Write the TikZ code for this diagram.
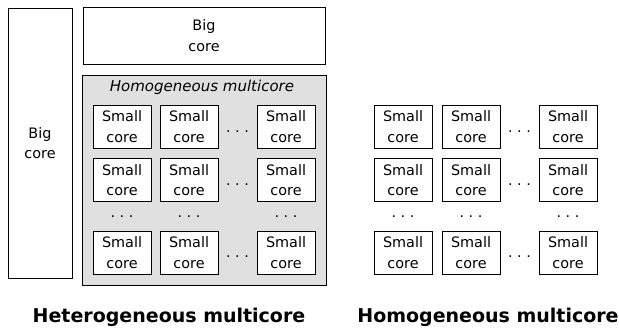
\documentclass[tikz,border=0pt]{standalone}
\usepackage{fontspec}
\setmainfont{DejaVu Sans}
\usepackage{xcolor}
\usetikzlibrary{positioning}
\definecolor{clustergray}{HTML}{E0E0E0}
\newcommand{\spaceddots}{.\hspace{4.5pt}.\hspace{4.5pt}.}

\begin{document}
\begin{tikzpicture}[x=1pt,y=-1pt,semithick]
	\tikzstyle{core}=[draw=black, fill=white, align=center, inner sep=0pt, font=\fontsize{14.4}{20.5}\selectfont]
	\tikzstyle{small}=[core, minimum width=58pt, minimum height=43pt]
	\tikzstyle{gap}=[inner sep=0pt, font=\fontsize{14.4}{20}\selectfont]
	\tikzstyle{caption}=[font=\fontsize{19}{22}\selectfont\bfseries]
	\useasboundingbox (0,0) rectangle (619,331);

	% big cores
	\node[core, minimum width=64pt, minimum height=270pt] (bigl) at (40,143) {Big\\core};
	\node[core, minimum width=242pt, minimum height=57pt] (bigt) at (204,35.5) {Big\\core};

	% cluster of small cores
	\node[draw=black, fill=clustergray, minimum width=244pt, minimum height=210pt] (cluster) at (204,180) {};
	\node[gap, font=\fontsize{15}{20}\selectfont\itshape] (clustertitle) at (202,87) {Homogeneous multicore};

		\foreach \c/\x in {1/122,2/189,3/286}{
		 \foreach \r/\y in {1/126.5,2/180,3/252.5}{
			\node[small] (het-\r-\c) at (\x,\y) {Small\\core};
			}
			}
		\foreach \r/\y in {1/131.5,2/185,3/257}{
			\node[gap] (hetdots-\r) at (237.5,\y) {\spaceddots};
			}
		\foreach \c/\x in {1/122,2/189,3/286}{
			\node[gap] (hetvdots-\c) at (\x,217) {\spaceddots};
			}

	% plain grid of small cores
		\foreach \c/\x in {1/403,2/471,3/568}{
		 \foreach \r/\y in {1/126.5,2/180,3/252.5}{
			\node[small] (hom-\r-\c) at (\x,\y) {Small\\core};
			}
			}
		\foreach \r/\y in {1/131.5,2/185,3/257}{
			\node[gap] (homdots-\r) at (519.5,\y) {\spaceddots};
			}
		\foreach \c/\x in {1/403,2/471,3/568}{
			\node[gap] (homvdots-\c) at (\x,217) {\spaceddots};
			}

	% captions
	\node[caption] (het) at (169,317) {Heterogeneous multicore};
	\node[caption] (hom) at (488,317) {Homogeneous multicore};
\end{tikzpicture}
\end{document}
